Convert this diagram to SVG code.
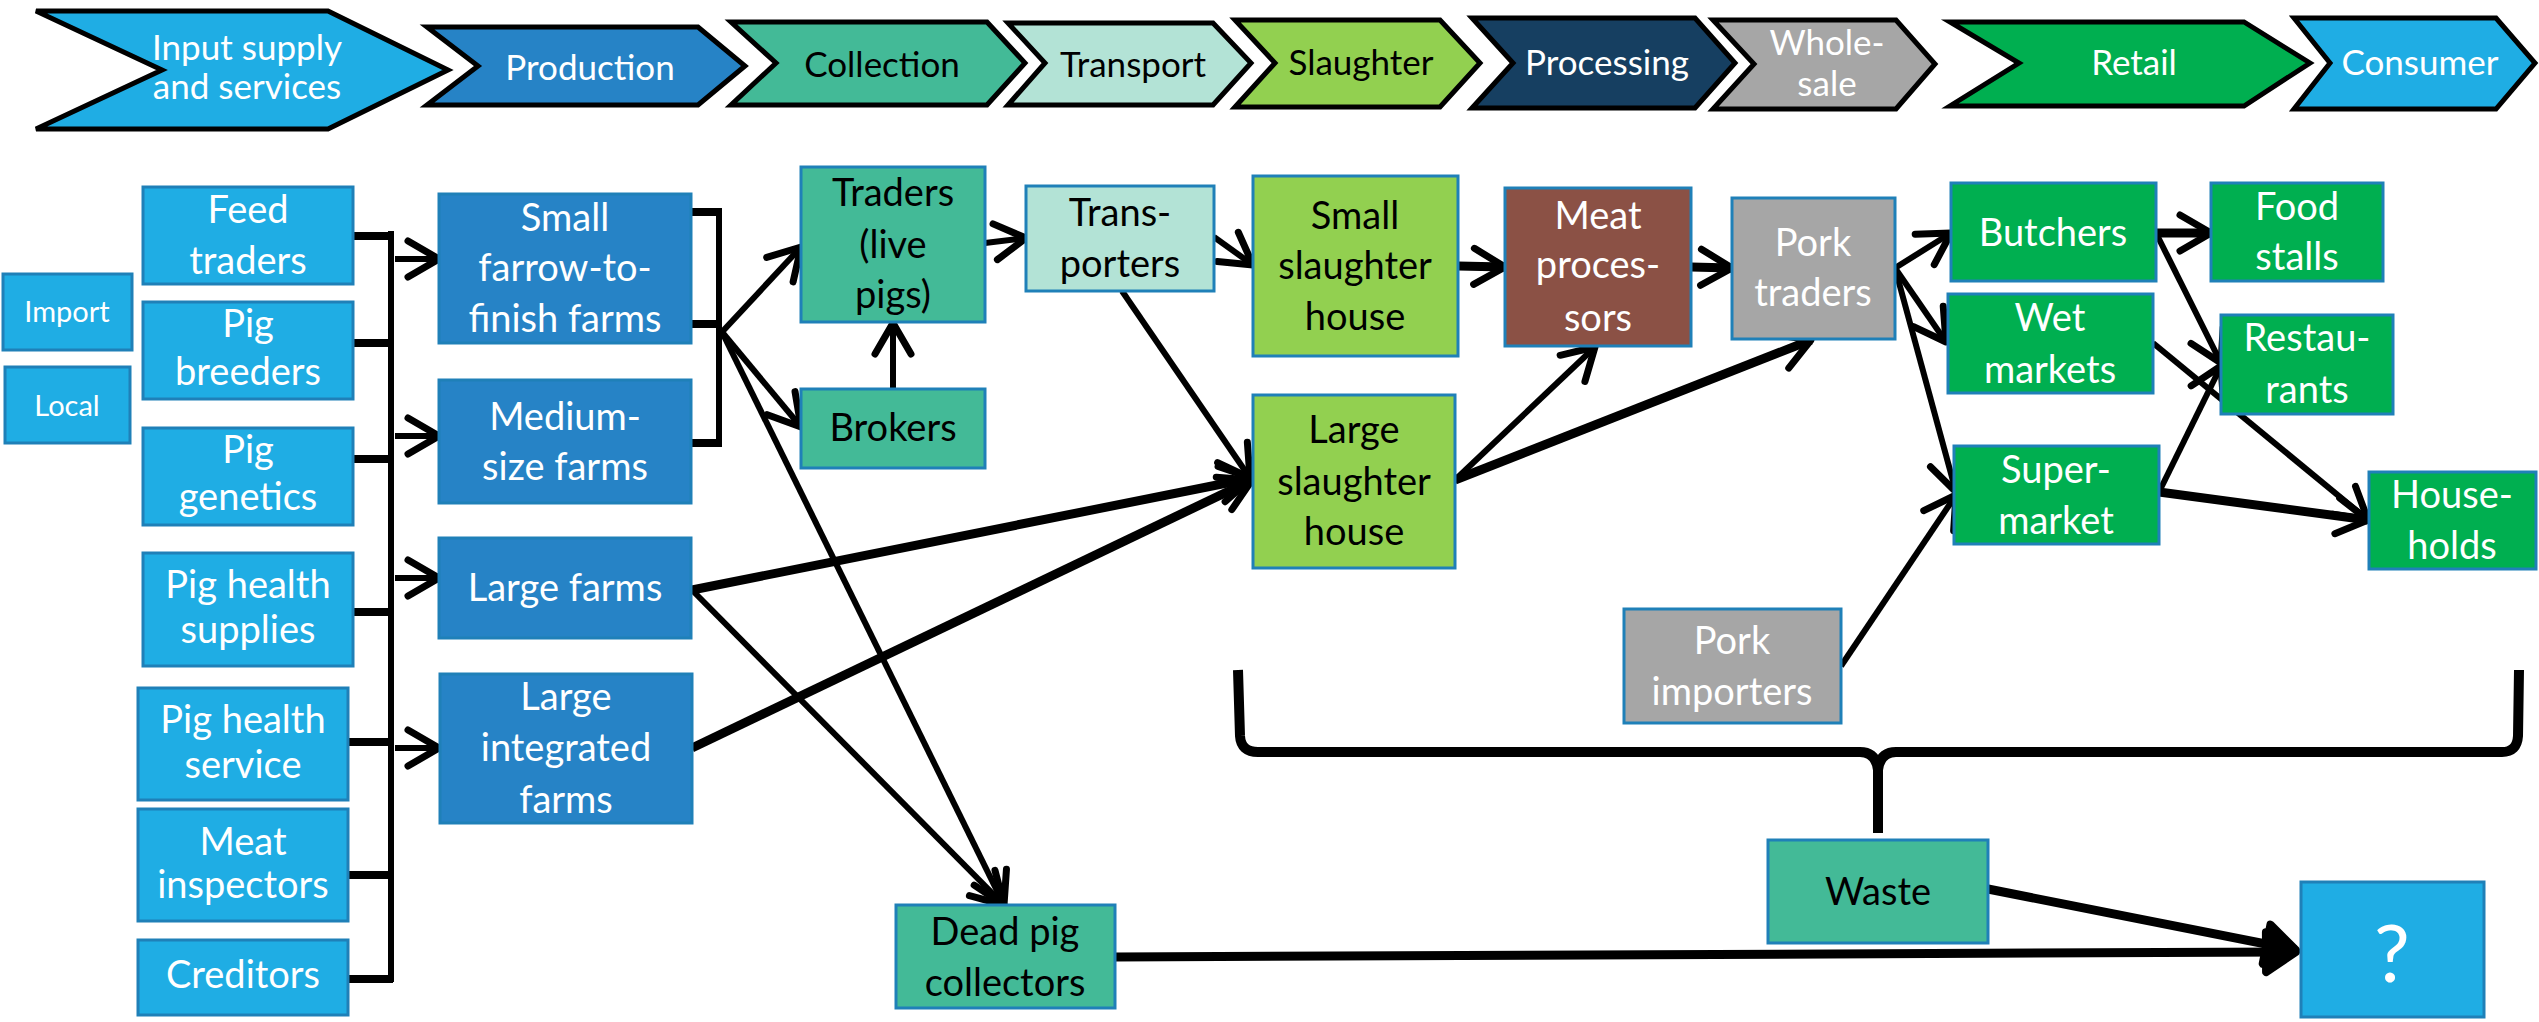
<svg xmlns="http://www.w3.org/2000/svg" width="2539" height="1022" viewBox="0 0 2539 1022">
<style>
.t{font-family:Lato,'Liberation Sans',sans-serif;text-anchor:middle;font-size:38px}
.s{font-size:29px}
.c{font-size:35px}
.q{font-size:80px}
.w{fill:#fff}
.k{fill:#000}
.bx{stroke:#1F80B8;stroke-width:3}
.ch{stroke:#000;stroke-width:5;stroke-linejoin:miter}
.in{fill:#1FADE4}
.fm{fill:#2683C6}
.tl{fill:#43BA97}
.lt{fill:#B3E3D6}
.lg{fill:#92D050}
.br{fill:#8B5145}
.gy{fill:#A6A6A6}
.gn{fill:#00AF50}
.nv{fill:#163F61}
.cn line,.cn path{stroke:#000;stroke-width:6;fill:none}
.cn .th{stroke-width:9}
.cn .a{marker-end:url(#arr)}
.cn .ab{marker-end:url(#arrBig)}
</style>
<defs>
<marker id="arr" markerUnits="userSpaceOnUse" viewBox="-45 -28 55 56" refX="0" refY="0" markerWidth="55" markerHeight="56" orient="auto">
<path d="M-31,-18 L0,0 L-31,18" fill="none" stroke="#000" stroke-width="7" stroke-linecap="round" stroke-linejoin="round"/>
</marker>
<marker id="arrBig" markerUnits="userSpaceOnUse" viewBox="-45 -30 55 60" refX="0" refY="0" markerWidth="55" markerHeight="60" orient="auto">
<path d="M-30,-20 L0,0 L-30,20 Z" fill="#000" stroke="#000" stroke-width="8" stroke-linejoin="round"/>
</marker>
</defs>
<rect width="2539" height="1022" fill="#fff"/>

<g id="stages">
<g id="stage-input"><polygon class="ch in" points="36,11 328,11 448,70 328,129 36,129 162,70"/><text class="t c w" x="247" y="60">Input supply</text><text class="t c w" x="247" y="99">and services</text></g>
<g id="stage-production"><polygon class="ch fm" points="427,27 698,27 745,66 698,105 427,105 478,66"/><text class="t c w" x="590" y="80">Production</text></g>
<g id="stage-collection"><polygon class="ch tl" points="731,22 987,22 1025,63 987,105 731,105 776,63"/><text class="t c k" x="882" y="77">Collection</text></g>
<g id="stage-transport"><polygon class="ch lt" points="1008,23 1213,23 1251,63 1213,105 1008,105 1045,63"/><text class="t c k" x="1133" y="77">Transport</text></g>
<g id="stage-slaughter"><polygon class="ch lg" points="1235,20 1440,20 1480,63 1440,107 1235,107 1275,63"/><text class="t c k" x="1361" y="75">Slaughter</text></g>
<g id="stage-processing"><polygon class="ch nv" points="1472,18 1695,18 1735,63 1695,108 1472,108 1513,63"/><text class="t c w" x="1607" y="75">Processing</text></g>
<g id="stage-wholesale"><polygon class="ch gy" points="1713,20 1896,20 1935,64 1896,109 1713,109 1754,64"/><text class="t c w" x="1827" y="55">Whole-</text><text class="t c w" x="1827" y="96">sale</text></g>
<g id="stage-retail"><polygon class="ch gn" points="1950,22 2244,22 2310,63 2244,106 1950,106 2019,63"/><text class="t c w" x="2134" y="75">Retail</text></g>
<g id="stage-consumer"><polygon class="ch in" points="2294,18 2496,18 2535,63 2496,109 2294,109 2330,63"/><text class="t c w" x="2420" y="75">Consumer</text></g>
</g>

<g id="connectors" class="cn">
<line x1="353" y1="236" x2="393" y2="236" style="stroke-width:8"/>
<line x1="353" y1="343" x2="393" y2="343" style="stroke-width:8"/>
<line x1="353" y1="459" x2="393" y2="459" style="stroke-width:8"/>
<line x1="353" y1="612" x2="393" y2="612" style="stroke-width:8"/>
<line x1="348" y1="742" x2="393" y2="742" style="stroke-width:8"/>
<line x1="348" y1="875" x2="393" y2="875" style="stroke-width:8"/>
<line x1="348" y1="979" x2="393" y2="979" style="stroke-width:8"/>
<line x1="391" y1="231" x2="391" y2="982"/>
<line class="a" x1="395" y1="259" x2="439" y2="259"/>
<line class="a" x1="395" y1="436" x2="439" y2="436"/>
<line class="a" x1="395" y1="578" x2="439" y2="578"/>
<line class="a" x1="395" y1="748" x2="439" y2="748"/>
<line x1="691" y1="212" x2="722" y2="212" style="stroke-width:8"/>
<line x1="688" y1="324" x2="722" y2="324" style="stroke-width:8"/>
<line x1="691" y1="443" x2="722" y2="443" style="stroke-width:8"/>
<line x1="719" y1="209" x2="719" y2="447"/>
<line class="a" x1="722" y1="332" x2="801" y2="247"/>
<line class="a" x1="722" y1="332" x2="801" y2="427"/>
<line class="a" x1="722" y1="332" x2="1004" y2="905"/>
<line class="a" x1="692" y1="590" x2="1004" y2="905"/>
<line class="a th" x1="692" y1="590" x2="1252" y2="478"/>
<line class="a th" x1="692" y1="748" x2="1252" y2="480"/>
<line class="a" x1="893" y1="389" x2="893" y2="323"/>
<line class="a" x1="985" y1="243" x2="1026" y2="238"/>
<line class="a" x1="1214" y1="237" x2="1253" y2="265"/>
<line class="a" x1="1122" y1="291" x2="1250" y2="478"/>
<line class="a th" x1="1458" y1="266" x2="1505" y2="267"/>
<line class="a" x1="1455" y1="480" x2="1595" y2="347"/>
<line class="a th" x1="1455" y1="480" x2="1811" y2="340"/>
<line class="a th" x1="1691" y1="267" x2="1732" y2="268"/>
<line class="a" x1="1895" y1="268" x2="1951" y2="233"/>
<line class="a" x1="1895" y1="268" x2="1946" y2="342"/>
<line class="a" x1="1895" y1="268" x2="1956" y2="492"/>
<line class="a th" x1="2156" y1="233" x2="2211" y2="233"/>
<line class="a" x1="2156" y1="233" x2="2221" y2="363"/>
<line class="a" x1="2153" y1="343" x2="2368" y2="520"/>
<line class="a" x1="2159" y1="492" x2="2221" y2="366"/>
<line class="a th" x1="2159" y1="492" x2="2368" y2="520"/>
<line class="a" x1="1841" y1="666" x2="1956" y2="495"/>
<line class="ab th" x1="1988" y1="889" x2="2296" y2="950"/>
<line class="ab th" x1="1115" y1="957" x2="2296" y2="952"/>
<path d="M1238,670 L1240,736 Q1241,752 1258,752 L1860,752 Q1876,752 1878,770 L1878,833 M1878,770 Q1880,752 1896,752 L2502,752 Q2517,752 2518,736 L2519,670" style="stroke-width:10"/>
</g>

<g id="n-import"><rect class="bx in" x="3" y="274" width="129" height="76"/><text class="t s w" x="67" y="322">Import</text></g>
<g id="n-local"><rect class="bx in" x="5" y="367" width="125" height="76"/><text class="t s w" x="67" y="416">Local</text></g>
<g id="n-feed"><rect class="bx in" x="143" y="187" width="210" height="97"/><text class="t w" x="248" y="223">Feed</text><text class="t w" x="248" y="274">traders</text></g>
<g id="n-breeders"><rect class="bx in" x="143" y="302" width="210" height="97"/><text class="t w" x="248" y="337">Pig</text><text class="t w" x="248" y="385">breeders</text></g>
<g id="n-genetics"><rect class="bx in" x="143" y="428" width="210" height="97"/><text class="t w" x="248" y="463">Pig</text><text class="t w" x="248" y="510">genetics</text></g>
<g id="n-health-supplies"><rect class="bx in" x="143" y="553" width="210" height="113"/><text class="t w" x="248" y="598">Pig health</text><text class="t w" x="248" y="643">supplies</text></g>
<g id="n-health-service"><rect class="bx in" x="138" y="688" width="210" height="112"/><text class="t w" x="243" y="733">Pig health</text><text class="t w" x="243" y="778">service</text></g>
<g id="n-inspectors"><rect class="bx in" x="138" y="809" width="210" height="112"/><text class="t w" x="243" y="855">Meat</text><text class="t w" x="243" y="898">inspectors</text></g>
<g id="n-creditors"><rect class="bx in" x="138" y="940" width="210" height="75"/><text class="t w" x="243" y="988">Creditors</text></g>

<g id="n-small-farms"><rect class="bx fm" x="439" y="194" width="252" height="149"/><text class="t w" x="565" y="231">Small</text><text class="t w" x="565" y="281">farrow-to-</text><text class="t w" x="565" y="332">finish farms</text></g>
<g id="n-medium-farms"><rect class="bx fm" x="439" y="380" width="252" height="123"/><text class="t w" x="565" y="430">Medium-</text><text class="t w" x="565" y="480">size farms</text></g>
<g id="n-large-farms"><rect class="bx fm" x="439" y="538" width="252" height="100"/><text class="t w" x="565" y="601">Large farms</text></g>
<g id="n-integrated"><rect class="bx fm" x="440" y="674" width="252" height="149"/><text class="t w" x="566" y="710">Large</text><text class="t w" x="566" y="761">integrated</text><text class="t w" x="566" y="813">farms</text></g>

<g id="n-traders-live"><rect class="bx tl" x="801" y="167" width="184" height="155"/><text class="t k" x="893" y="206">Traders</text><text class="t k" x="893" y="258">(live</text><text class="t k" x="893" y="308">pigs)</text></g>
<g id="n-brokers"><rect class="bx tl" x="801" y="389" width="184" height="79"/><text class="t k" x="893" y="441">Brokers</text></g>
<g id="n-transporters"><rect class="bx lt" x="1026" y="186" width="188" height="105"/><text class="t k" x="1120" y="226">Trans-</text><text class="t k" x="1120" y="277">porters</text></g>
<g id="n-small-slaughter"><rect class="bx lg" x="1253" y="176" width="205" height="180"/><text class="t k" x="1355" y="229">Small</text><text class="t k" x="1355" y="279">slaughter</text><text class="t k" x="1355" y="330">house</text></g>
<g id="n-large-slaughter"><rect class="bx lg" x="1253" y="395" width="202" height="173"/><text class="t k" x="1354" y="443">Large</text><text class="t k" x="1354" y="495">slaughter</text><text class="t k" x="1354" y="545">house</text></g>
<g id="n-processors"><rect class="bx br" x="1505" y="188" width="186" height="158"/><text class="t w" x="1598" y="229">Meat</text><text class="t w" x="1598" y="278">proces-</text><text class="t w" x="1598" y="331">sors</text></g>
<g id="n-pork-traders"><rect class="bx gy" x="1732" y="198" width="163" height="141"/><text class="t w" x="1813" y="256">Pork</text><text class="t w" x="1813" y="306">traders</text></g>
<g id="n-butchers"><rect class="bx gn" x="1951" y="183" width="205" height="98"/><text class="t w" x="2053" y="246">Butchers</text></g>
<g id="n-food-stalls"><rect class="bx gn" x="2211" y="183" width="172" height="98"/><text class="t w" x="2297" y="220">Food</text><text class="t w" x="2297" y="270">stalls</text></g>
<g id="n-wet-markets"><rect class="bx gn" x="1948" y="294" width="205" height="99"/><text class="t w" x="2050" y="331">Wet</text><text class="t w" x="2050" y="383">markets</text></g>
<g id="n-restaurants"><rect class="bx gn" x="2221" y="315" width="172" height="99"/><text class="t w" x="2307" y="351">Restau-</text><text class="t w" x="2307" y="403">rants</text></g>
<g id="n-supermarket"><rect class="bx gn" x="1954" y="446" width="205" height="98"/><text class="t w" x="2056" y="483">Super-</text><text class="t w" x="2056" y="534">market</text></g>
<g id="n-households"><rect class="bx gn" x="2369" y="472" width="167" height="97"/><text class="t w" x="2452" y="508">House-</text><text class="t w" x="2452" y="559">holds</text></g>
<g id="n-pork-importers"><rect class="bx gy" x="1624" y="609" width="217" height="114"/><text class="t w" x="1732" y="654">Pork</text><text class="t w" x="1732" y="705">importers</text></g>
<g id="n-waste"><rect class="bx tl" x="1768" y="840" width="220" height="103"/><text class="t k" x="1878" y="905">Waste</text></g>
<g id="n-dead-pig"><rect class="bx tl" x="896" y="905" width="219" height="103"/><text class="t k" x="1005" y="945">Dead pig</text><text class="t k" x="1005" y="996">collectors</text></g>
<g id="n-unknown"><rect class="bx in" x="2301" y="882" width="183" height="135"/><text class="t q w" x="2392" y="982">?</text></g>
</svg>
